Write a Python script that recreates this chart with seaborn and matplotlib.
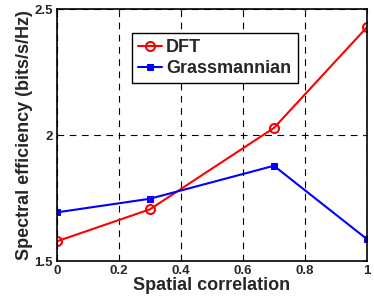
import matplotlib
matplotlib.use("Agg")
import matplotlib.pyplot as plt
import seaborn as sns
import pandas as pd

x_vals = [0, 0.3, 0.7, 1.0]
dft = [1.579, 1.706, 2.029, 2.429]
grass = [1.694, 1.748, 1.879, 1.588]
x_ticks = [0, 0.2, 0.4, 0.6, 0.8, 1]
x_tick_labels = ["0", "0.2", "0.4", "0.6", "0.8", "1"]
y_ticks = [1.5, 2.0, 2.5]
y_tick_labels = ["1.5", "2", "2.5"]

sns.set_style("white")
plt.rcParams['font.family'] = ['Liberation Sans', 'DejaVu Sans']
plt.rcParams['font.weight'] = 'bold'

df = pd.DataFrame({"x": x_vals * 2, "y": dft + grass,
                   "s": ["DFT"] * 4 + ["Grassmannian"] * 4})

fig = plt.figure(figsize=(3.74, 3.02), dpi=100)
ax = fig.add_axes([0.152, 0.135, 0.829, 0.834])

sns.lineplot(data=df[df.s == "DFT"], x="x", y="y", ax=ax, color="#ff0000",
             lw=1.5, marker="o", markersize=6.5, markerfacecolor="none",
             markeredgecolor="#ff0000", markeredgewidth=1.5, label="DFT")
sns.lineplot(data=df[df.s == "Grassmannian"], x="x", y="y", ax=ax, color="#0000ff",
             lw=1.5, marker="s", markersize=4.5, markerfacecolor="#0000ff",
             markeredgecolor="#0000ff", label="Grassmannian")

ax.set_xlim(0, 1)
ax.set_ylim(1.5, 2.5)
ax.set_xticks(x_ticks)
ax.set_xticklabels(x_tick_labels, fontsize=9.5, fontweight="bold")
ax.set_yticks(y_ticks)
ax.set_yticklabels(y_tick_labels, fontsize=9.5, fontweight="bold")
ax.tick_params(direction="in", top=True, right=True, length=3, width=0.8, pad=3)
ax.grid(True, color="black", linestyle=(0, (6, 5)), linewidth=0.8)
for s in ax.spines.values():
    s.set_color("black")
    s.set_linewidth(1.2)
ax.set_xlabel("Spatial correlation", fontsize=13, fontweight="bold", labelpad=0)
ax.set_ylabel("Spectral efficiency (bits/s/Hz)", fontsize=13, fontweight="bold", labelpad=1)

leg = ax.legend(loc="upper left", bbox_to_anchor=(0.242, 0.906), borderaxespad=0,
                frameon=True, fancybox=False, edgecolor="black", framealpha=1,
                handlelength=1.3, handletextpad=0.25, borderpad=0.35, labelspacing=0.2,
                prop={"weight": "bold", "size": 13})
leg.get_frame().set_linewidth(1.0)

fig.savefig("out.png", dpi=100)
